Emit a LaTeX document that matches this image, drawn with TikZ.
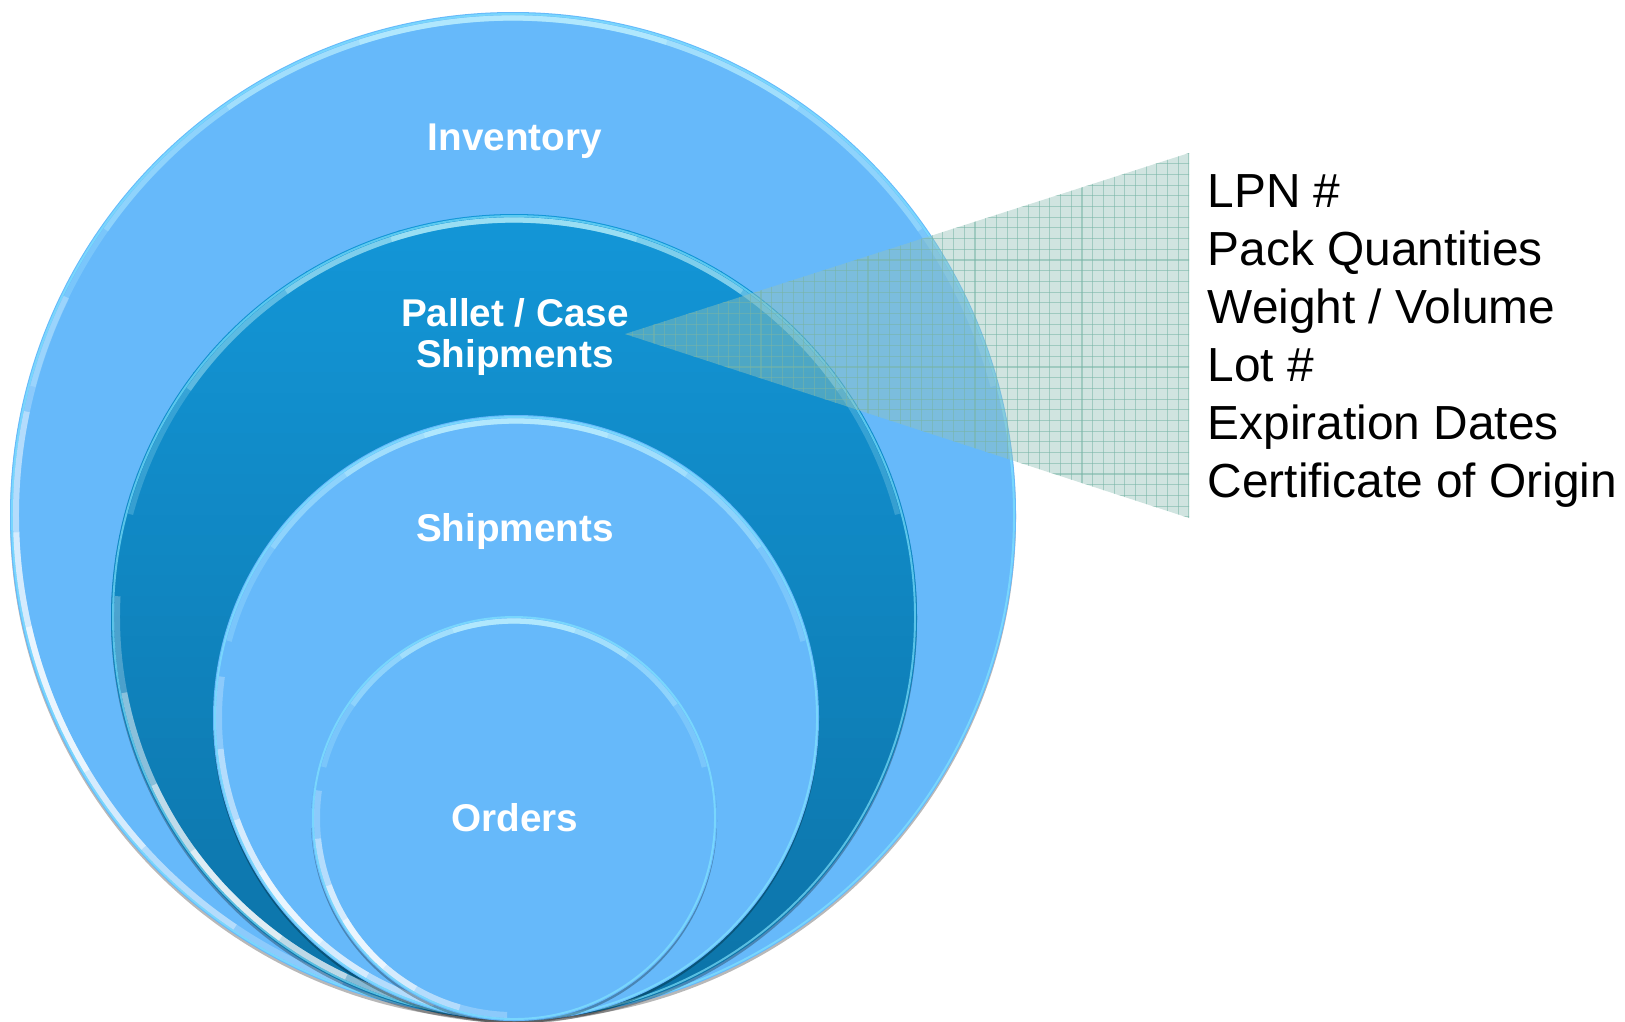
\documentclass[tikz,border=0pt]{standalone}
\usepackage{fontspec}
\setmainfont{Liberation Sans}
\definecolor{skyfill}{RGB}{102,185,250}
\definecolor{palletTop}{RGB}{19,150,215}
\definecolor{palletBot}{RGB}{12,114,166}
\definecolor{rimlight}{RGB}{205,250,255}
\definecolor{rimcyan}{RGB}{130,230,255}
\definecolor{wedgefill}{RGB}{150,196,186}
\definecolor{gridline}{RGB}{120,180,166}
\tikzset{
  lbl/.style={text=white, font=\bfseries\fontsize{11}{11.8}\selectfont, inner sep=0pt, align=center},
  info/.style={text=black, font=\fontsize{13.6}{16.5}\selectfont, inner sep=0pt, align=left},
  shadowfill/.style={fill=black, opacity=.28},
}
% soft highlights along the inside of a disc:
% #1 centre, #2 radius, #3 angle of the lower-left white glint
\newcommand\ringglow[3]{%
  \pgfmathsetmacro\rIn{#2-6}%
  \pgfmathsetmacro\rEdge{#2-2}%
  \draw[rimcyan, line width=.55pt, opacity=.65] (#1) circle[radius=\rEdge];
  \foreach \s/\o in {75/.2,55/.25,35/.3,18/.35}{%
    \pgfmathsetmacro\aS{270-\s}\pgfmathsetmacro\aE{270+\s}%
    \draw[rimlight, line width=1.5pt, opacity=\o] ([shift={(\aS:\rIn)}]#1) arc[start angle=\aS, end angle=\aE, radius=\rIn];}
  \foreach \s/\o in {48/.25,34/.35,20/.45,9/.5}{%
    \pgfmathsetmacro\aS{#3-\s}\pgfmathsetmacro\aE{#3+\s}%
    \draw[white, line width=1.7pt, opacity=\o] ([shift={(\aS:\rIn)}]#1) arc[start angle=\aS, end angle=\aE, radius=\rIn];}
}
\begin{document}
\begin{tikzpicture}[x=0.01cm,y=-0.01cm]
\useasboundingbox (0,0) rectangle (1625,1021);

% centres of the nested circles
\coordinate (cInv)  at (513,515);
\coordinate (cPal)  at (514,617);
\coordinate (cShip) at (516,718);
\coordinate (cOrd)  at (514,818);

% outer circle: inventory
\fill[shadowfill] ([yshift=-.8pt]cInv) circle[radius=503];
\fill[skyfill] (cInv) circle[radius=503];
\ringglow{cInv}{503}{158}

% pallet / case circle with a vertical gradient
\fill[shadowfill] ([yshift=-.8pt]cPal) circle[radius=403];
\begin{scope}
  \clip (cPal) circle[radius=403];
  \foreach \k in {0,...,40} {
    \pgfmathsetmacro\mix{100-\k*2.5}
    \fill[palletTop!\mix!palletBot] (100,210+\k*20.3) rectangle (930,210+\k*20.3+21);
  }
\end{scope}
\ringglow{cPal}{403}{135}

% shipments circle
\fill[shadowfill] ([yshift=-.8pt]cShip) circle[radius=303];
\fill[skyfill] (cShip) circle[radius=303];
\ringglow{cShip}{303}{140}

% orders circle
\fill[shadowfill] ([yshift=-.8pt]cOrd) circle[radius=203];
\fill[skyfill] (cOrd) circle[radius=203];
\ringglow{cOrd}{203}{140}

% callout wedge with a fine grid
\coordinate (apex) at (625,334);
\coordinate (wTop) at (1189,153);
\coordinate (wBot) at (1189,518);
\fill[wedgefill, opacity=.45] (apex) -- (wTop) -- (wBot) -- cycle;
\begin{scope}
  \clip (apex) -- (wTop) -- (wBot) -- cycle;
  \foreach \i in {0,...,53} {
    \draw[gridline, line width=.3pt, opacity=.55] (1189-\i*10.7,150) -- (1189-\i*10.7,520);
  }
  \foreach \i in {0,...,35} {
    \draw[gridline, line width=.3pt, opacity=.55] (620,153+\i*10.7) -- (1190,153+\i*10.7);
  }
\end{scope}

% circle labels
\node[lbl] (tInv)  at (515,141) {Inventory};
\node[lbl] (tPal)  at (515,337) {Pallet / Case\\Shipments};
\node[lbl] (tShip) at (515,531) {Shipments};
\node[lbl] (tOrd)  at (515,818) {Orders};

% attribute list
\node[info, anchor=north west] (attrs) at (1207,174)
  {LPN \#\\Pack Quantities\\Weight / Volume\\Lot \#\\Expiration Dates\\Certificate of Origin};
\end{tikzpicture}
\end{document}
